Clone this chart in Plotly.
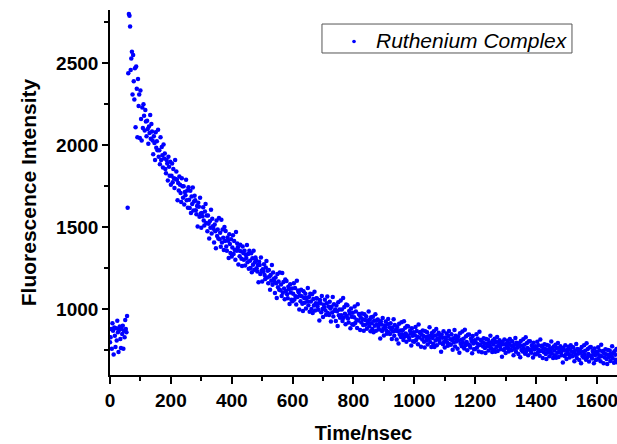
import plotly.graph_objects as go

# Time channels: first channel time and spacing (ns)
t_start = 0.0
t_step = 2.0

# Fluorescence intensity, one value per channel (rows of 20 ns)
intensity = [
    800, 830, 880, 760, 915, 870, 725, 890, 840, 770,
    885, 810, 930, 860, 740, 875, 895, 820, 765, 880,
    850, 900, 760, 870, 830, 935, 880, 860, 960, 1620,
    2440, 2800, 2790, 2725, 2460, 2530, 2570, 2310, 2550, 2390,
    2280, 2470, 2110, 2480, 2345, 2050, 2405, 2240, 2310, 2045,
    2335, 2160, 2030, 2230, 2105, 2250, 2180, 2090, 2215, 2145,
    2055, 2150, 2100, 2010, 2115, 2075, 2185, 2040, 2130, 2085,
    2030, 1945, 2055, 2015, 1910, 2080, 1985, 2025, 1970, 2095,
    1930, 1970, 1885, 2050, 1910, 1990, 1940, 1865, 2005, 1920,
    1950, 1855, 1830, 1910, 1890, 1785, 1930, 1870, 1815, 1900,
    1760, 1815, 1890, 1775, 1855, 1800, 1740, 1910, 1795, 1840,
    1790, 1665, 1770, 1725, 1810, 1760, 1710, 1655, 1800, 1750,
    1680, 1750, 1640, 1715, 1695, 1790, 1665, 1725, 1620, 1745,
    1668, 1618, 1723, 1588, 1688, 1643, 1743, 1603, 1658, 1693,
    1665, 1605, 1580, 1630, 1505, 1650, 1625, 1565, 1680, 1585,
    1497, 1587, 1567, 1622, 1542, 1512, 1597, 1642, 1527, 1572,
    1477, 1572, 1522, 1432, 1537, 1497, 1607, 1462, 1552, 1507,
    1492, 1407, 1517, 1477, 1372, 1542, 1447, 1487, 1432, 1557,
    1427, 1467, 1382, 1547, 1407, 1487, 1437, 1362, 1502, 1417,
    1478, 1383, 1358, 1438, 1418, 1313, 1458, 1398, 1343, 1428,
    1322, 1377, 1452, 1337, 1417, 1362, 1302, 1472, 1357, 1402,
    1379, 1274, 1359, 1324, 1394, 1354, 1309, 1264, 1384, 1344,
    1303, 1358, 1268, 1333, 1313, 1393, 1288, 1338, 1248, 1358,
    1297, 1252, 1342, 1227, 1312, 1272, 1357, 1242, 1287, 1317,
    1301, 1251, 1231, 1271, 1166, 1291, 1271, 1216, 1316, 1236,
    1170, 1245, 1230, 1275, 1210, 1185, 1255, 1295, 1195, 1235,
    1160, 1240, 1200, 1120, 1210, 1175, 1270, 1150, 1225, 1185,
    1170, 1100, 1195, 1160, 1070, 1215, 1135, 1170, 1120, 1225,
    1117, 1152, 1082, 1222, 1102, 1167, 1127, 1062, 1182, 1112,
    1173, 1093, 1068, 1138, 1123, 1033, 1153, 1103, 1058, 1128,
    1050, 1095, 1160, 1060, 1130, 1080, 1030, 1175, 1075, 1115,
    1105, 1000, 1085, 1050, 1120, 1080, 1035, 990, 1110, 1070,
    1040, 1095, 1005, 1070, 1050, 1130, 1025, 1075, 985, 1095,
    1048, 1003, 1093, 978, 1063, 1023, 1108, 993, 1038, 1068,
    1067, 1017, 997, 1037, 932, 1057, 1037, 982, 1082, 1002,
    953, 1028, 1013, 1058, 993, 968, 1038, 1078, 978, 1018,
    966, 1046, 1006, 926, 1016, 981, 1076, 956, 1031, 991,
    999, 929, 1024, 989, 899, 1044, 964, 999, 949, 1054,
    964, 999, 929, 1069, 949, 1014, 974, 909, 1029, 959,
    1025, 945, 920, 990, 975, 885, 1005, 955, 910, 980,
    907, 952, 1017, 917, 987, 937, 887, 1032, 932, 972,
    965, 875, 950, 920, 975, 940, 905, 870, 970, 935,
    907, 957, 882, 932, 917, 987, 897, 937, 867, 952,
    915, 880, 955, 860, 930, 900, 970, 870, 910, 935,
    938, 893, 878, 913, 823, 928, 908, 868, 948, 883,
    841, 901, 891, 926, 871, 851, 911, 941, 861, 891,
    850, 915, 880, 820, 890, 865, 940, 840, 905, 870,
    877, 817, 892, 867, 792, 912, 847, 872, 832, 922,
    848, 873, 813, 928, 833, 888, 853, 803, 898, 838,
    895, 830, 815, 870, 855, 780, 885, 840, 805, 860,
    803, 843, 893, 813, 868, 833, 788, 908, 828, 858,
    862, 772, 847, 817, 872, 837, 802, 767, 867, 832,
    811, 861, 786, 836, 821, 891, 801, 841, 771, 856,
    826, 791, 866, 771, 841, 811, 881, 781, 821, 846,
    857, 812, 797, 832, 742, 847, 827, 787, 867, 802,
    768, 828, 818, 853, 798, 778, 838, 868, 788, 818,
    784, 849, 814, 754, 824, 799, 874, 774, 839, 804,
    820, 760, 835, 810, 735, 855, 790, 815, 775, 865,
    796, 821, 761, 876, 781, 836, 801, 751, 846, 786,
    847, 782, 767, 822, 807, 732, 837, 792, 757, 812,
    758, 798, 848, 768, 823, 788, 743, 863, 783, 813,
    814, 739, 799, 774, 824, 794, 764, 734, 819, 789,
    775, 815, 750, 795, 780, 840, 765, 800, 740, 810,
    786, 756, 821, 741, 801, 771, 831, 746, 781, 801,
    812, 772, 757, 787, 712, 802, 787, 752, 817, 762,
    734, 789, 779, 809, 764, 744, 794, 819, 754, 779,
    751, 806, 776, 721, 786, 761, 826, 741, 796, 766,
    778, 728, 793, 773, 708, 808, 753, 778, 743, 818,
    760, 785, 730, 830, 745, 795, 765, 720, 805, 755,
    806, 751, 736, 781, 771, 706, 796, 756, 726, 776,
    727, 762, 802, 737, 782, 752, 717, 817, 747, 777,
    778, 703, 763, 738, 788, 758, 728, 698, 783, 753,
    739, 779, 714, 759, 744, 804, 729, 764, 704, 774,
    750, 720, 785, 705, 765, 735, 795, 710, 745, 765,
    776, 736, 721, 751, 676, 766, 751, 716, 781, 726,
    697, 752, 742, 772, 727, 707, 757, 782, 717, 742,
    714, 769, 739, 684, 749, 724, 789, 704, 759, 729,
    741, 691, 756, 736, 671, 771, 716, 741, 706, 781,
    723, 748, 693, 793, 708, 758, 728, 683, 768, 718,
    771, 716, 701, 746, 736, 671, 761, 721, 691, 741,
    694, 729, 769, 704, 749, 719, 684, 784, 714, 744,
    747, 672, 732, 707, 757, 727, 697, 667, 752, 722,
    710, 750, 685, 730, 715, 775, 700, 735, 675, 745,
    723, 693, 758, 678,
]
time_ns = [t_start + i * t_step for i in range(len(intensity))]

series_name = "Ruthenium Complex"
x_title = "Time/nsec"
y_title = "Fluorescence Intensity"

FONT = "Arial, 'Liberation Sans', sans-serif"
BLUE = "#0000FF"

fig = go.Figure()
fig.add_trace(go.Scatter(
    x=time_ns, y=intensity, mode="markers", name=series_name,
    marker=dict(color=BLUE, size=4.5, line=dict(width=0)),
    showlegend=False,
))

axis_common = dict(
    showline=True, linecolor="black", linewidth=1.6, mirror=False,
    showgrid=False, zeroline=False, automargin=False,
    ticks="outside", tickcolor="black", tickwidth=1.5,
    ticklabeloverflow="allow",
    tickfont=dict(family=FONT, size=19, color="black", weight="bold"),
)

fig.update_xaxes(
    range=[0, 1666], dtick=200, tick0=0, ticklen=7,
    minor=dict(ticks="outside", dtick=100, ticklen=4, tickcolor="black", tickwidth=1.5),
    title=dict(text=x_title, font=dict(family=FONT, size=20, color="black", weight="bold"), standoff=20),
    **axis_common,
)
fig.update_yaxes(
    range=[600, 2825], dtick=500, tick0=0, ticklen=6,
    minor=dict(ticks="outside", dtick=250, ticklen=4, tickcolor="black", tickwidth=1.5),
    title=dict(text=y_title, font=dict(family=FONT, size=21, color="black", weight="bold"), standoff=14),
    **axis_common,
)

# Legend drawn as a framed box with a sample marker and the series name
fig.add_shape(type="rect", xref="paper", yref="paper",
              x0=0.4181, x1=0.9112, y0=0.8822, y1=0.9616,
              line=dict(color="#555555", width=1), fillcolor="white", layer="above")
fig.add_shape(type="circle", xref="paper", yref="paper",
              x0=0.4813 - 0.0036, x1=0.4813 + 0.0036, y0=0.9137 - 0.005, y1=0.9137 + 0.005,
              line=dict(width=0), fillcolor=BLUE, layer="above")
fig.add_annotation(xref="paper", yref="paper", x=0.5207, y=0.9178,
                   xanchor="left", yanchor="middle", showarrow=False, text=series_name,
                   font=dict(family=FONT, size=21, color="black", style="italic"))

fig.update_layout(
    width=617, height=444,
    margin=dict(l=110, r=0, t=10, b=69),
    paper_bgcolor="white", plot_bgcolor="white",
    showlegend=False,
)

fig.write_html(
    "out.html",
    config={"displayModeBar": False},
    post_script="document.body.style.margin='0';document.body.style.overflow='hidden';",
)
